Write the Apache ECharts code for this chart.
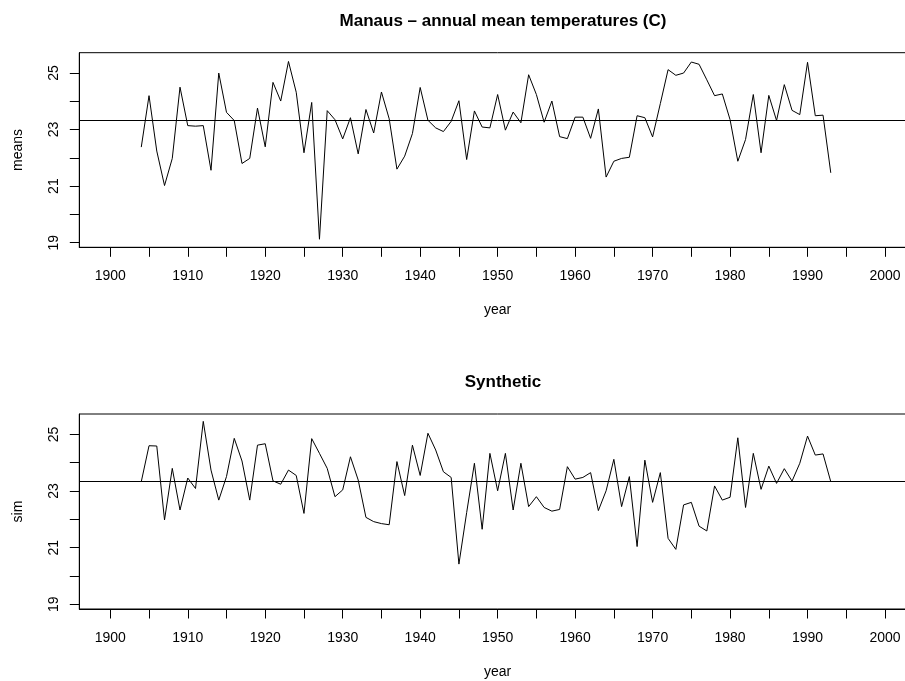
<!DOCTYPE html>
<html>
<head>
<meta charset="utf-8">
<script src="https://cdn.jsdelivr.net/npm/echarts@6/dist/echarts.min.js"></script>
<style>html,body{margin:0;padding:0;background:#fff;overflow:hidden;width:905px;height:681px}#c{width:940px;height:681px}</style>
</head>
<body>
<div id="c"></div>
<script>
const firstYear = 1904;
const means = [22.38,24.2,22.24,21.02,21.98,24.5,23.14,23.12,23.14,21.56,
  25.0,23.61,23.32,21.8,21.98,23.76,22.39,24.67,24.01,25.41,
  24.32,22.18,23.96,19.12,23.67,23.35,22.67,23.42,22.14,23.71,
  22.88,24.33,23.38,21.6,22.06,22.86,24.49,23.33,23.06,22.93,
  23.29,24.02,21.94,23.66,23.09,23.06,24.24,22.98,23.62,23.24,
  24.94,24.24,23.26,24.01,22.75,22.68,23.44,23.44,22.69,23.73,
  21.32,21.88,21.98,22.02,23.49,23.42,22.74,23.92,25.12,24.92,
  25.0,25.39,25.31,24.76,24.2,24.26,23.35,21.88,22.65,24.24,
  22.18,24.21,23.32,24.59,23.68,23.53,25.38,23.49,23.51,21.47];
const sim = [23.33,24.6,24.59,21.98,23.8,22.33,23.46,23.09,25.46,23.74,
  22.68,23.51,24.86,24.06,22.68,24.62,24.67,23.36,23.24,23.74,
  23.55,22.21,24.85,24.33,23.8,22.8,23.04,24.21,23.39,22.07,
  21.92,21.85,21.81,24.04,22.84,24.62,23.55,25.04,24.45,23.68,
  23.48,20.42,22.24,23.98,21.65,24.33,23.01,24.33,22.33,23.98,
  22.45,22.8,22.42,22.29,22.35,23.86,23.42,23.48,23.65,22.31,
  23.01,24.12,22.45,23.51,21.04,24.09,22.6,23.65,21.33,20.94,
  22.51,22.6,21.76,21.59,23.18,22.68,22.78,24.88,22.42,24.33,
  23.06,23.88,23.27,23.79,23.35,23.98,24.94,24.27,24.31,23.33];
const meanValue = 23.33;
const xTicks = [1900,1905,1910,1915,1920,1925,1930,1935,1940,1945,1950,1955,1960,1965,1970,1975,1980,1985,1990,1995,2000];
const xLabels = [1900,1910,1920,1930,1940,1950,1960,1970,1980,1990,2000];
const yTicks = [19,20,21,22,23,24,25];
const yLabels = [19,21,23,25];
const titles = ['Manaus \u2013 annual mean temperatures (C)', 'Synthetic'];
const yNames = ['means', 'sim'];
const xName = 'year';

const years = means.map((_, i) => firstYear + i);
const FONT = '"Liberation Sans", Arial, Helvetica, sans-serif';
const grids = [
  {left: 79.3, top: 52.7, width: 836.7, height: 194.6},
  {left: 79.3, top: 414, width: 836.7, height: 195}
];
const xAxis = grids.map((g, i) => ({
  type: 'value', gridIndex: i, min: 1896, max: 2004,
  name: xName, nameLocation: 'middle', nameGap: 56,
  nameTextStyle: {color: '#000', fontSize: 14, fontFamily: FONT},
  axisLine: {show: true, lineStyle: {color: '#000', width: 1}},
  axisTick: {show: true, customValues: xTicks, length: 9.5, lineStyle: {color: '#000', width: 1}},
  axisLabel: {customValues: xLabels, margin: 22, color: '#000', fontSize: 14, fontFamily: FONT, formatter: v => String(v)},
  splitLine: {show: false}
}));
const yAxis = grids.map((g, i) => ({
  type: 'value', gridIndex: i, min: 18.835, max: 25.72,
  name: yNames[i], nameLocation: 'middle', nameGap: 54,
  nameTextStyle: {color: '#000', fontSize: 14, fontFamily: FONT},
  axisLine: {show: true, lineStyle: {color: '#000', width: 1}},
  axisTick: {show: true, customValues: yTicks, length: 9.5, lineStyle: {color: '#000', width: 1}},
  axisLabel: {customValues: yLabels, rotate: 90, margin: 18, color: '#000', fontSize: 14, fontFamily: FONT, formatter: v => String(v)},
  splitLine: {show: false}
}));
const seriesData = [means, sim];
const option = {
  animation: false,
  backgroundColor: '#fff',
  title: [
    {text: titles[0], left: 498, top: 7.5, textAlign: 'center', textStyle: {fontSize: 17, fontWeight: 'bold', color: '#000', fontFamily: FONT}},
    {text: titles[1], left: 498, top: 368.6, textAlign: 'center', textStyle: {fontSize: 17, fontWeight: 'bold', color: '#000', fontFamily: FONT}}
  ],
  grid: grids.map(g => Object.assign({show: true, borderColor: '#000', borderWidth: 1, backgroundColor: 'transparent'}, g)),
  xAxis, yAxis,
  series: seriesData.map((arr, i) => ({
    type: 'line', xAxisIndex: i, yAxisIndex: i,
    data: arr.map((v, k) => [years[k], v]),
    showSymbol: false, symbol: 'none',
    lineStyle: {color: '#000', width: 1},
    markLine: {
      silent: true, symbol: 'none', label: {show: false},
      lineStyle: {color: '#000', width: 1, type: 'solid'},
      data: [{yAxis: meanValue}]
    }
  }))
};
const chart = echarts.init(document.getElementById('c'), null, {renderer: 'canvas'});
chart.setOption(option);
</script>
</body>
</html>
